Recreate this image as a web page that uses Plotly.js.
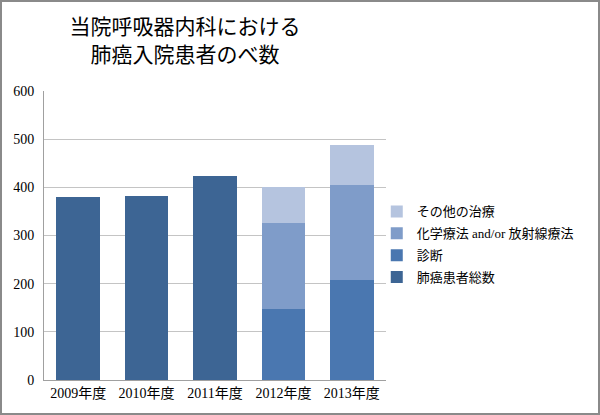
<!DOCTYPE html>
<html><head><meta charset="utf-8">
<script src="https://cdn.plot.ly/plotly-3.0.1.min.js"></script>
<style>
html,body{margin:0;padding:0;background:#fff;}
#wrap{width:600px;height:415px;box-sizing:border-box;border:2px solid #8a8a8a;overflow:hidden;}
#chart{width:596px;height:411px;}
</style></head>
<body><div id="wrap"><div id="chart"></div></div>
<script>
const categories = ["2009年度","2010年度","2011年度","2012年度","2013年度"];
const totalPatients = [379, 383, 424, null, null];
const diagnosis = [null, null, null, 147, 208];
const chemoRadio = [null, null, null, 178, 197];
const otherTreatment = [null, null, null, 75, 83];
const seriesNames = ["肺癌患者総数","診断","化学療法 and/or 放射線療法","その他の治療"];
const yTicks = [0,100,200,300,400,500,600];

const colors = ["#3D6594","#4A77B0","#7F9CC9","#B5C4DF"];
const vals = [totalPatients, diagnosis, chemoRadio, otherTreatment];
const FONT = "'Liberation Serif', 'Noto Sans CJK JP', serif";
const traces = vals.map((v,i)=>({
  type:'bar', x:categories, y:v, name:seriesNames[i], legendgroup:'g'+i, legendrank:1000-i,
  marker:{color:colors[i], line:{width:0}}, hoverinfo:'skip'
}));
const layout = {
  width:596, height:411,
  margin:{l:42,r:212,t:89,b:33},
  paper_bgcolor:'#fff', plot_bgcolor:'#fff',
  barmode:'stack', bargap:0.36,
  font:{family:FONT, size:14, color:'#000'},
  title:{text:'当院呼吸器内科における<br>肺癌入院患者のべ数', x:0.307, xanchor:'center', xref:'container',
    y:0.921, yanchor:'middle', yref:'container',
    font:{family:"'Noto Sans CJK JP', sans-serif", size:21, color:'#000'}},
  xaxis:{showgrid:false, showline:true, linecolor:'#a0a0a0', linewidth:1, ticks:'', tickfont:{size:14}},
  yaxis:{range:[0,600], tickvals:yTicks, showgrid:true, gridcolor:'#c4c4c4', gridwidth:1,
    showline:true, linecolor:'#a0a0a0', ticks:'', zeroline:false, tickfont:{size:14}, ticklabelstandoff:6},
  legend:{x:0.973, xanchor:'left', y:0.469, yanchor:'middle', traceorder:'grouped', tracegroupgap:2,
    font:{size:13}, itemwidth:30, bgcolor:'rgba(0,0,0,0)'},
  showlegend:true
};
Plotly.newPlot('chart', traces, layout, {displayModeBar:false, staticPlot:true});
</script></body></html>
